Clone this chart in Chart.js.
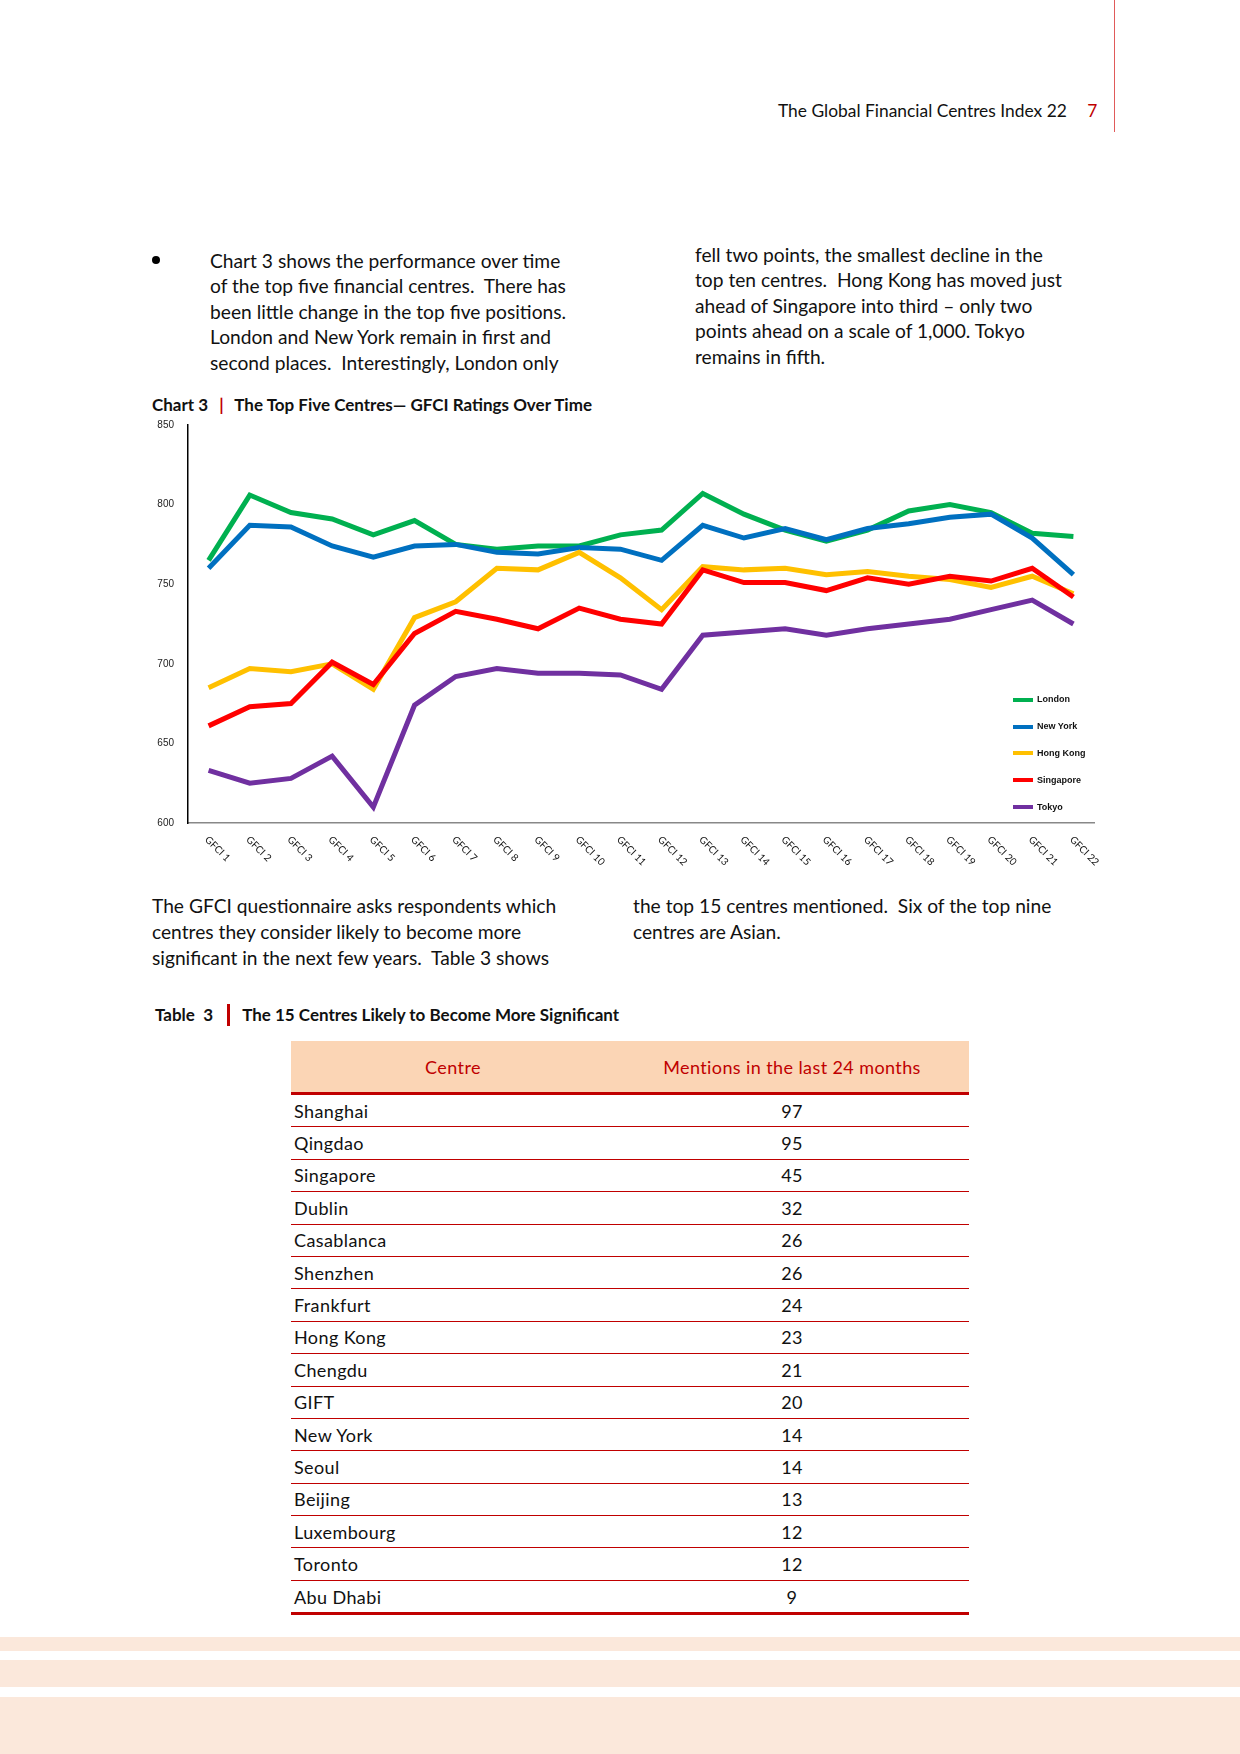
<!DOCTYPE html>
<html>
<head>
<meta charset="utf-8">
<script src="https://cdn.jsdelivr.net/npm/chart.js@4.4.1/dist/chart.umd.min.js"></script>
<style>
  html, body { margin: 0; padding: 0; background: #fff; }
  body { width: 1240px; height: 1754px; position: relative; overflow: hidden; font-family: Lato, "Open Sans", sans-serif; color: #111; }
  .abs { position: absolute; }
  .para { font-size: 19.2px; line-height: 25.4px; white-space: nowrap; }
  .caption { font-size: 17px; font-weight: bold; white-space: nowrap; }
  .bar { color: #c00000; }
  #chartBox { left: 130px; top: 413px; width: 990px; height: 470px; }
  .legend-row { position: absolute; left: 1013px; font: bold 9px "Liberation Sans", Arial, sans-serif; white-space: nowrap; }
  .legend-row span { display: inline-block; width: 20px; height: 4px; vertical-align: middle; margin-right: 4px; }
  table { border-collapse: collapse; font-size: 18px; letter-spacing: 0.4px; }
  th { background: #fbd5b5; color: #c00000; font-weight: normal; height: 49px; border-bottom: 3px solid #c00000; }
  td { height: 31.4px; border-bottom: 1.5px solid #c00000; padding: 0 3px; }
  tr:last-child td { border-bottom: 3px solid #c00000; }
  td.num { text-align: center; }
  .band { left: 0; width: 1240px; background: #fbe8db; }
</style>
</head>
<body>
<div class="abs" style="left:1114px;top:0;width:1px;height:132px;background:#e05a5a;"></div>
<div class="abs" style="left:778px;top:100px;font-size:17.4px;white-space:nowrap;">The Global Financial Centres Index 22 <span style="color:#c00000;margin-left:16px;">7</span></div>

<div class="abs" style="left:152px;top:256px;width:8px;height:8px;border-radius:50%;background:#000;"></div>
<div class="abs para" style="left:210px;top:248px;">Chart 3 shows the performance over time<br>of the top five financial centres.&nbsp; There has<br>been little change in the top five positions.<br>London and New York remain in first and<br>second places.&nbsp; Interestingly, London only</div>
<div class="abs para" style="left:695px;top:242px;">fell two points, the smallest decline in the<br>top ten centres.&nbsp; Hong Kong has moved just<br>ahead of Singapore into third – only two<br>points ahead on a scale of 1,000. Tokyo<br>remains in fifth.</div>

<div class="abs caption" style="left:152px;top:394px;">Chart 3 <span class="bar" style="margin:0 7px;">|</span> The Top Five Centres— GFCI Ratings Over Time</div>

<div id="chartBox" class="abs"><canvas id="gfciChart"></canvas></div>
<div id="legend"></div>

<div class="abs para" style="left:152px;top:893px;line-height:26px;">The GFCI questionnaire asks respondents which<br>centres they consider likely to become more<br>significant in the next few years.&nbsp; Table 3 shows</div>
<div class="abs para" style="left:633px;top:893px;line-height:26px;">the top 15 centres mentioned.&nbsp; Six of the top nine<br>centres are Asian.</div>

<div class="abs caption" style="left:155px;top:1004px;">Table&nbsp; 3 <span class="bar" style="display:inline-block;width:3px;height:22px;background:#c00000;vertical-align:-5px;margin:0 12px 0 10px;"></span>The 15 Centres Likely to Become More Significant</div>

<table class="abs" id="centreTable" style="left:291px;top:1041px;width:678px;">
  <thead><tr><th style="width:322px;">Centre</th><th>Mentions in the last 24 months</th></tr></thead>
  <tbody></tbody>
</table>

<div class="abs band" style="top:1637px;height:14px;"></div>
<div class="abs band" style="top:1660px;height:27px;"></div>
<div class="abs band" style="top:1697px;height:57px;"></div>

<script>
const editions = ['GFCI 1', 'GFCI 2', 'GFCI 3', 'GFCI 4', 'GFCI 5', 'GFCI 6', 'GFCI 7', 'GFCI 8', 'GFCI 9', 'GFCI 10', 'GFCI 11',
  'GFCI 12', 'GFCI 13', 'GFCI 14', 'GFCI 15', 'GFCI 16', 'GFCI 17', 'GFCI 18', 'GFCI 19', 'GFCI 20', 'GFCI 21', 'GFCI 22'];
const london = [765, 806, 795, 791, 781, 790, 775, 772, 774, 774, 781, 784, 807, 794, 784, 777, 784, 796, 800, 795, 782, 780];
const newYork = [760, 787, 786, 774, 767, 774, 775, 770, 769, 773, 772, 765, 787, 779, 785, 778, 785, 788, 792, 794, 779, 756];
const hongKong = [685, 697, 695, 700, 684, 729, 739, 760, 759, 770, 754, 734, 761, 759, 760, 756, 758, 755, 753, 748, 755, 744];
const singapore = [661, 673, 675, 701, 687, 719, 733, 728, 722, 735, 728, 725, 759, 751, 751, 746, 754, 750, 755, 752, 760, 742];
const tokyo = [633, 625, 628, 642, 610, 674, 692, 697, 694, 694, 693, 684, 718, 720, 722, 718, 722, 725, 728, 734, 740, 725];

const centreNames = ['London', 'New York', 'Hong Kong', 'Singapore', 'Tokyo'];
const centreColors = ['#00b050', '#0070c0', '#ffc000', '#ff0000', '#7030a0'];
const yTicks = [600, 650, 700, 750, 800, 850];

// Table 3
const tableCentres = ['Shanghai', 'Qingdao', 'Singapore', 'Dublin', 'Casablanca', 'Shenzhen', 'Frankfurt', 'Hong Kong',
  'Chengdu', 'GIFT', 'New York', 'Seoul', 'Beijing', 'Luxembourg', 'Toronto', 'Abu Dhabi'];
const tableMentions = [97, 95, 45, 32, 26, 26, 24, 23, 21, 20, 14, 14, 13, 12, 12, 9];

const tbody = document.querySelector('#centreTable tbody');
tableCentres.forEach((name, i) => {
  const tr = document.createElement('tr');
  tr.innerHTML = '<td>' + name + '</td><td class="num">' + tableMentions[i] + '</td>';
  tbody.appendChild(tr);
});

const legend = document.getElementById('legend');
centreNames.forEach((name, i) => {
  const row = document.createElement('div');
  row.className = 'legend-row';
  row.style.top = (694 + i * 26.9) + 'px';
  row.innerHTML = '<span style="background:' + centreColors[i] + '"></span>' + name;
  legend.appendChild(row);
});

const seriesData = [london, newYork, hongKong, singapore, tokyo];

// x labels run down to the right, so draw them ourselves at the scale's tick pixels
const slantedLabels = {
  id: 'slantedLabels',
  afterDraw(chart) {
    const xScale = chart.scales.x;
    const ctx = chart.ctx;
    ctx.save();
    ctx.font = '10px Lato, "Open Sans", sans-serif';
    ctx.fillStyle = '#111';
    ctx.textAlign = 'left';
    ctx.textBaseline = 'middle';
    editions.forEach((label, i) => {
      const x = xScale.getPixelForTick(i);
      ctx.save();
      ctx.translate(x - 2, xScale.top + 15);
      ctx.rotate(Math.PI / 4);
      ctx.fillText(label, 0, 0);
      ctx.restore();
    });
    ctx.restore();
  },
};

new Chart(document.getElementById('gfciChart'), {
  type: 'line',
  data: {
    labels: editions,
    datasets: seriesData.map((values, i) => ({
      label: centreNames[i],
      data: values,
      borderColor: centreColors[i],
      backgroundColor: centreColors[i],
      borderWidth: 5,
      pointRadius: 0,
      tension: 0,
      order: seriesData.length - i,
    })),
  },
  options: {
    responsive: true,
    maintainAspectRatio: false,
    animation: false,
    layout: { padding: { top: 4, right: 26, left: 0, bottom: 0 } },
    plugins: { legend: { display: false }, tooltip: { enabled: false } },
    scales: {
      x: {
        offset: true,
        grid: { display: false },
        border: { color: '#888', width: 1.5 },
        ticks: { display: false },
        afterFit: (scale) => { scale.height = 60; },
      },
      y: {
        min: 600,
        max: 850,
        grid: { display: false },
        border: { color: '#000', width: 1.5 },
        afterBuildTicks: (scale) => { scale.ticks = yTicks.map((v) => ({ value: v })); },
        ticks: { color: '#222', font: { family: '"Liberation Sans", Arial', size: 10 }, padding: 6 },
        afterFit: (scale) => { scale.width = 58; },
      },
    },
  },
  plugins: [slantedLabels],
});
</script>
</body>
</html>
